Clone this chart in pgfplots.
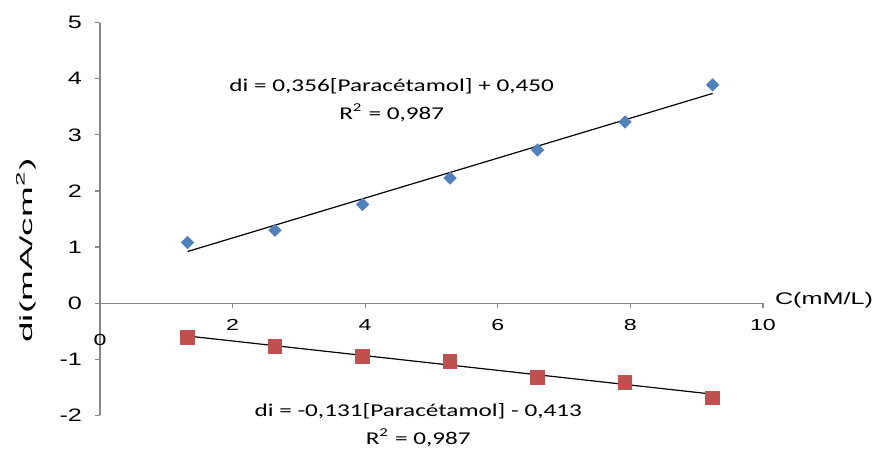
\documentclass[border=0pt]{standalone}
\usepackage{pgfplots}
\pgfplotsset{compat=1.18}
\usepackage{fontspec}
\setmainfont{Liberation Sans}
\newfontfamily\calfont{Carlito}
\definecolor{xlblue}{HTML}{4F81BD}
\definecolor{xlred}{HTML}{C0504D}
\definecolor{axgray}{HTML}{868686}
\begin{document}
\begin{tikzpicture}
\begin{axis}[
  at={(0,0)}, anchor=south west,
  scale only axis, width=331.5pt, height=196.3pt,
  xmin=0, xmax=10, ymin=-2, ymax=5,
  axis x line=middle, axis y line=left,
  axis line style={draw=axgray, line width=0.6pt, -},
  tick style={draw=axgray, line width=0.6pt},
  tick align=outside, major tick length=2.5pt,
  xtick={2,4,6,8,10}, ytick={-2,-1,0,1,2,3,4,5},
  xticklabel={\pgfmathtruncatemacro\tk{round(\tick)}\scalebox{1.45}[1]{\fontsize{8}{9}\selectfont\tk}},
  yticklabel={\pgfmathtruncatemacro\tk{round(\tick)}\scalebox{1.4}[1]{\fontsize{9}{10}\selectfont\tk}},
  xticklabel style={yshift=-2pt},
  yticklabel style={xshift=-3pt},
  clip=false,
]
\addplot[only marks, mark=square*, mark size=2.15pt, mark options={rotate=45}, color=xlblue] coordinates {
 (1.32,1.08) (2.64,1.30) (3.96,1.76) (5.28,2.23) (6.60,2.73) (7.92,3.23) (9.24,3.89)};
\addplot[no marks, black, line width=0.6pt] coordinates {(1.32,0.920) (9.24,3.739)};
\addplot[only marks, mark=square*, mark size=3.4pt, color=xlred] coordinates {
 (1.32,-0.61) (2.64,-0.77) (3.96,-0.95) (5.28,-1.04) (6.60,-1.32) (7.92,-1.41) (9.24,-1.69)};
\addplot[no marks, black, line width=0.6pt] coordinates {(1.32,-0.586) (9.24,-1.623)};
\node at (axis cs:0,-0.65) {\scalebox{1.45}[1]{\fontsize{8}{9}\selectfont 0}};
\node at (axis cs:10.92,0.05) {\scalebox{1.5}[1]{\fontsize{8.4}{10}\selectfont C(mM/L)}};
\node[rotate=90] at ([xshift=-37pt]axis cs:0,0.94) {\scalebox{2.12}[1]{\fontsize{8.7}{10}\selectfont di(mA/cm\textsuperscript{2})}};
\node at (axis cs:4.40,3.87) {\scalebox{1.4}[1]{\calfont\fontsize{9}{11}\selectfont di = 0,356[Paracétamol] + 0,450}};
\node at (axis cs:4.40,3.39) {\scalebox{1.4}[1]{\calfont\fontsize{9}{11}\selectfont R\textsuperscript{2} = 0,987}};
\node at (axis cs:4.80,-1.93) {\scalebox{1.4}[1]{\calfont\fontsize{9}{11}\selectfont di = -0,131[Paracétamol] - 0,413}};
\node at (axis cs:4.80,-2.40) {\scalebox{1.4}[1]{\calfont\fontsize{9}{11}\selectfont R\textsuperscript{2} = 0,987}};
\end{axis}
\pgfresetboundingbox
\path[use as bounding box] (-50pt,-17.35pt) rectangle (389pt,207.65pt);
\end{tikzpicture}
\end{document}
